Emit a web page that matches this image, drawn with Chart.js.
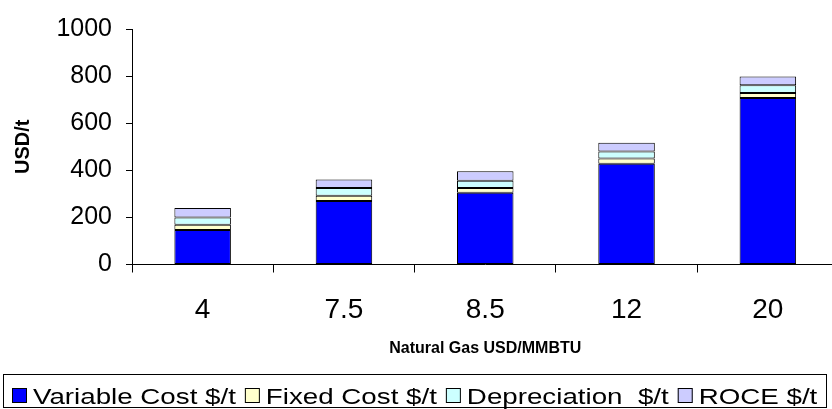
<!DOCTYPE html>
<html>
<head>
<meta charset="utf-8">
<title>Production cost vs natural gas price</title>
<script src="https://cdn.jsdelivr.net/npm/chart.js@4/dist/chart.umd.min.js"></script>
<style>
  html, body { margin: 0; padding: 0; background: #fff; overflow: hidden; }
  canvas { display: block; }
</style>
</head>
<body>
<canvas id="c" width="846" height="409"></canvas>
<script>
// Natural gas price (USD/MMBTU) categories
const gasPrices = ['4', '7.5', '8.5', '12', '20'];

// Cost components, USD per tonne
const variableCost = [147, 270, 305, 428, 707];
const fixedCost = [22, 22, 20, 22, 21];
const depreciation = [31, 33, 31, 30, 33];
const roce = [40, 36, 40, 37, 37];

const yTicks = [0, 200, 400, 600, 800, 1000];

const FONT = "'Liberation Sans', Arial, sans-serif";
Chart.defaults.font.family = FONT;
Chart.defaults.color = '#000';

// Boxed legend along the bottom, laid out left to right
const boxedLegend = {
  id: 'boxedLegend',
  afterDraw(chart, args, opts) {
    const ctx = chart.ctx;
    ctx.save();
    ctx.strokeStyle = '#000';
    ctx.lineWidth = 1;
    ctx.strokeRect(opts.left + 0.5, opts.top + 0.5, opts.right - opts.left, opts.bottom - opts.top);
    ctx.font = opts.fontSize + 'px ' + FONT;
    ctx.textBaseline = 'alphabetic';
    let x = opts.startX;
    chart.data.datasets.forEach(ds => {
      ctx.fillStyle = ds.backgroundColor;
      ctx.fillRect(x, opts.boxY, opts.box, opts.box);
      ctx.strokeStyle = '#000';
      ctx.strokeRect(x + 0.5, opts.boxY + 0.5, opts.box - 1, opts.box - 1);
      x += opts.box + opts.gapText;
      ctx.fillStyle = '#000';
      const w = ctx.measureText(ds.label).width * opts.stretch;
      ctx.save();
      ctx.translate(x, opts.baseline);
      ctx.scale(opts.stretch, 1);
      ctx.fillText(ds.label, 0, 0);
      ctx.restore();
      x += w + opts.gapItem;
    });
    ctx.restore();
  }
};

new Chart(document.getElementById('c'), {
  type: 'bar',
  data: {
    labels: gasPrices,
    datasets: [
      { label: 'Variable Cost $/t', data: variableCost, backgroundColor: '#0000FF' },
      { label: 'Fixed Cost $/t', data: fixedCost, backgroundColor: '#FFFFCC' },
      { label: 'Depreciation  $/t', data: depreciation, backgroundColor: '#CCFFFF' },
      { label: 'ROCE $/t', data: roce, backgroundColor: '#CCCCFF' }
    ].map(d => Object.assign(d, {
      borderColor: '#000',
      borderWidth: 1,
      borderSkipped: false,
      barPercentage: 0.4,
      categoryPercentage: 1
    }))
  },
  options: {
    responsive: false,
    animation: false,
    devicePixelRatio: 1,
    layout: { padding: { left: 0, top: 21, right: 7.5, bottom: 35 } },
    plugins: {
      legend: { display: false },
      tooltip: { enabled: false },
      boxedLegend: {
        left: 3, top: 374, right: 826, bottom: 407,
        startX: 12, boxY: 388, box: 15, gapText: 6, gapItem: 9,
        fontSize: 22, stretch: 1.26, baseline: 403.5
      }
    },
    scales: {
      x: {
        stacked: true,
        grid: { display: true, drawOnChartArea: false, offset: true, tickLength: 8, color: '#000', lineWidth: 1 },
        border: { color: '#000', width: 1 },
        ticks: { font: { size: 28 }, padding: 21, color: '#000' },
        title: {
          display: true, text: 'Natural Gas USD/MMBTU',
          font: { size: 16, weight: 'bold' }, padding: { top: 0, bottom: 16 }
        },
        afterFit(scale) { scale.height = 109.5; }
      },
      y: {
        stacked: true,
        min: 0, max: 1000,
        afterBuildTicks(scale) { scale.ticks = yTicks.map(v => ({ value: v })); },
        grid: { display: true, drawOnChartArea: false, tickLength: 6, color: '#000', lineWidth: 1 },
        border: { color: '#000', width: 1 },
        ticks: { font: { size: 25 }, padding: 14, color: '#000', callback: v => String(v) },
        title: {
          display: true, text: 'USD/t',
          font: { size: 20, weight: 'bold' }, padding: { top: 11, bottom: 0 }
        },
        afterFit(scale) { scale.width = 132; }
      }
    }
  },
  plugins: [boxedLegend]
});
</script>
</body>
</html>
